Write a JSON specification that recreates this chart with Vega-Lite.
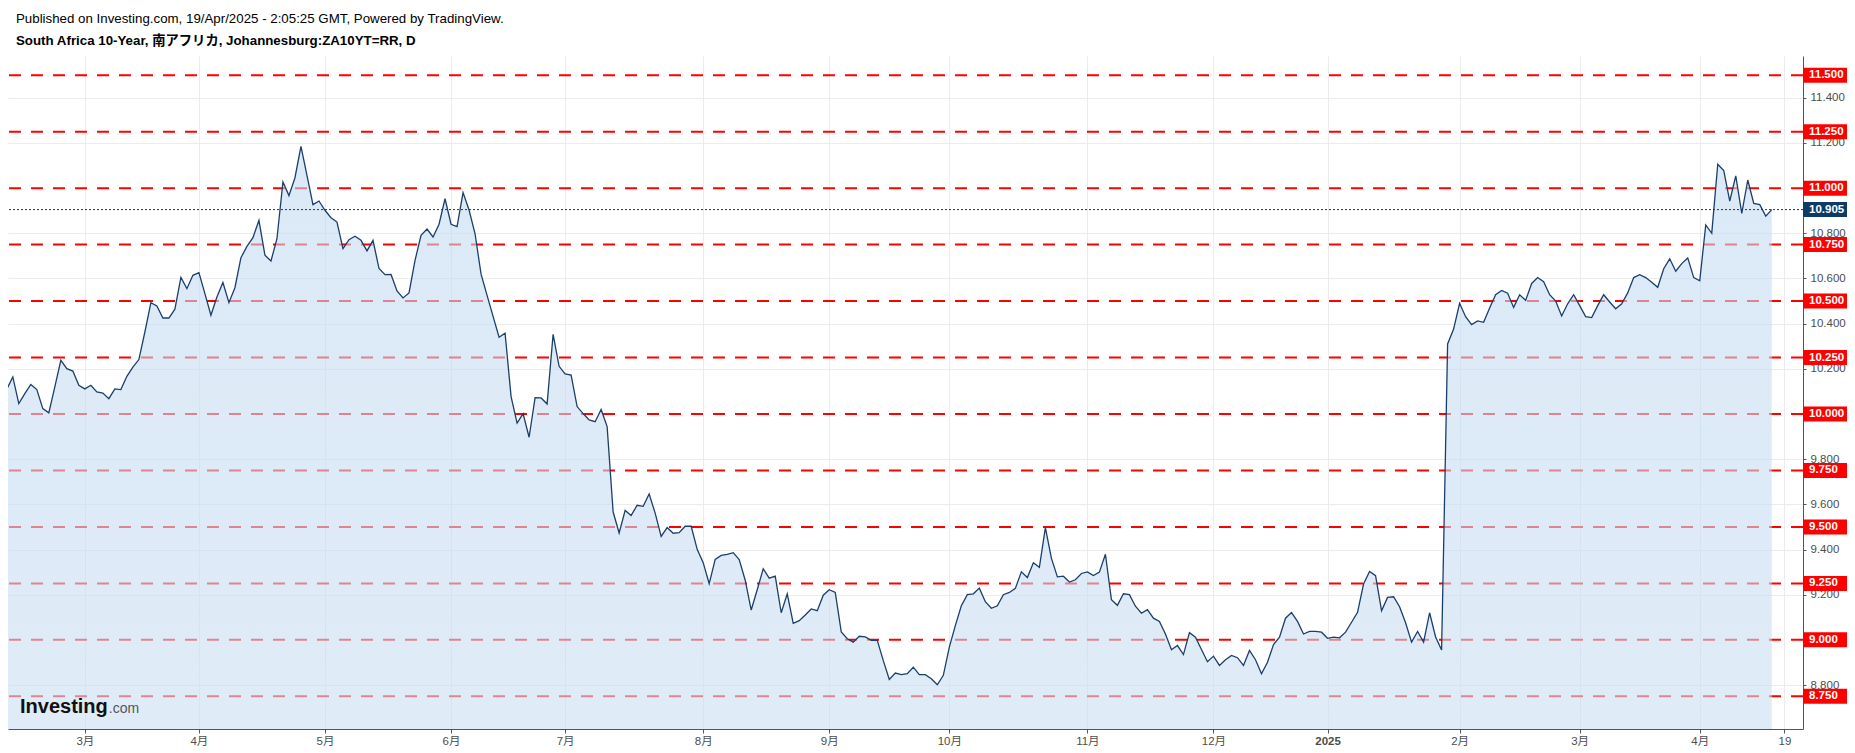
{
  "$schema": "https://vega.github.io/schema/vega-lite/v6.json",
  "width": 1795,
  "height": 673,
  "autosize": {"type": "none"},
  "padding": {"left": 8, "top": 56, "right": 52, "bottom": 24},
  "background": "#ffffff",
  "config": {"view": {"stroke": null}},
  "title": {
    "text": "Published on Investing.com, 19/Apr/2025 - 2:05:25 GMT, Powered by TradingView.",
    "subtitle": "South Africa 10-Year, 南アフリカ, Johannesburg:ZA10YT=RR, D",
    "anchor": "start",
    "frame": "group",
    "dx": 8,
    "offset": 9,
    "font": "Liberation Sans",
    "fontSize": 13.3,
    "fontWeight": "normal",
    "color": "#000000",
    "subtitleFont": "Liberation Sans, Noto Sans CJK JP",
    "subtitleFontSize": 13.3,
    "subtitleFontWeight": "bold",
    "subtitleColor": "#000000",
    "subtitlePadding": 8
  },
  "datasets": {
    "yields": [
      {"d":"2024-02-13","v":10.11},{"d":"2024-02-14","v":10.164},{"d":"2024-02-15","v":10.046},{"d":"2024-02-16","v":10.09},{"d":"2024-02-19","v":10.131},{"d":"2024-02-20","v":10.108},{"d":"2024-02-21","v":10.024},{"d":"2024-02-22","v":10.005},{"d":"2024-02-23","v":10.12},{"d":"2024-02-26","v":10.238},{"d":"2024-02-27","v":10.201},{"d":"2024-02-28","v":10.19},{"d":"2024-02-29","v":10.127},
      {"d":"2024-03-01","v":10.111},{"d":"2024-03-04","v":10.127},{"d":"2024-03-05","v":10.098},{"d":"2024-03-06","v":10.093},{"d":"2024-03-07","v":10.068},{"d":"2024-03-08","v":10.111},{"d":"2024-03-11","v":10.108},{"d":"2024-03-12","v":10.167},{"d":"2024-03-13","v":10.208},{"d":"2024-03-14","v":10.241},{"d":"2024-03-15","v":10.363},{"d":"2024-03-18","v":10.493},{"d":"2024-03-19","v":10.478},{"d":"2024-03-20","v":10.425},{"d":"2024-03-22","v":10.425},{"d":"2024-03-25","v":10.464},{"d":"2024-03-26","v":10.605},{"d":"2024-03-27","v":10.555},{"d":"2024-03-28","v":10.614},
      {"d":"2024-04-02","v":10.626},{"d":"2024-04-03","v":10.533},{"d":"2024-04-04","v":10.437},{"d":"2024-04-05","v":10.518},{"d":"2024-04-08","v":10.582},{"d":"2024-04-09","v":10.493},{"d":"2024-04-10","v":10.559},{"d":"2024-04-11","v":10.692},{"d":"2024-04-12","v":10.742},{"d":"2024-04-15","v":10.781},{"d":"2024-04-16","v":10.857},{"d":"2024-04-17","v":10.703},{"d":"2024-04-18","v":10.677},{"d":"2024-04-19","v":10.776},{"d":"2024-04-22","v":11.027},{"d":"2024-04-23","v":10.967},{"d":"2024-04-24","v":11.046},{"d":"2024-04-25","v":11.185},{"d":"2024-04-26","v":11.057},{"d":"2024-04-29","v":10.927},{"d":"2024-04-30","v":10.943},
      {"d":"2024-05-02","v":10.902},{"d":"2024-05-03","v":10.869},{"d":"2024-05-06","v":10.85},{"d":"2024-05-07","v":10.732},{"d":"2024-05-08","v":10.772},{"d":"2024-05-09","v":10.787},{"d":"2024-05-10","v":10.769},{"d":"2024-05-13","v":10.722},{"d":"2024-05-14","v":10.769},{"d":"2024-05-15","v":10.644},{"d":"2024-05-16","v":10.617},{"d":"2024-05-17","v":10.618},{"d":"2024-05-20","v":10.545},{"d":"2024-05-21","v":10.514},{"d":"2024-05-22","v":10.536},{"d":"2024-05-23","v":10.68},{"d":"2024-05-24","v":10.791},{"d":"2024-05-27","v":10.819},{"d":"2024-05-28","v":10.784},{"d":"2024-05-30","v":10.84},{"d":"2024-05-31","v":10.953},
      {"d":"2024-06-03","v":10.84},{"d":"2024-06-04","v":10.83},{"d":"2024-06-05","v":10.98},{"d":"2024-06-06","v":10.903},{"d":"2024-06-07","v":10.798},{"d":"2024-06-10","v":10.619},{"d":"2024-06-11","v":10.525},{"d":"2024-06-12","v":10.432},{"d":"2024-06-13","v":10.34},{"d":"2024-06-14","v":10.358},{"d":"2024-06-18","v":10.077},{"d":"2024-06-19","v":9.96},{"d":"2024-06-20","v":10.002},{"d":"2024-06-21","v":9.897},{"d":"2024-06-24","v":10.072},{"d":"2024-06-25","v":10.071},{"d":"2024-06-26","v":10.044},{"d":"2024-06-27","v":10.353},{"d":"2024-06-28","v":10.211},
      {"d":"2024-07-01","v":10.178},{"d":"2024-07-02","v":10.172},{"d":"2024-07-03","v":10.033},{"d":"2024-07-04","v":10.002},{"d":"2024-07-05","v":9.974},{"d":"2024-07-08","v":9.966},{"d":"2024-07-09","v":10.02},{"d":"2024-07-10","v":9.944},{"d":"2024-07-11","v":9.566},{"d":"2024-07-12","v":9.473},{"d":"2024-07-15","v":9.573},{"d":"2024-07-16","v":9.551},{"d":"2024-07-17","v":9.596},{"d":"2024-07-18","v":9.591},{"d":"2024-07-19","v":9.646},{"d":"2024-07-22","v":9.561},{"d":"2024-07-23","v":9.458},{"d":"2024-07-24","v":9.497},{"d":"2024-07-25","v":9.472},{"d":"2024-07-26","v":9.475},{"d":"2024-07-29","v":9.503},{"d":"2024-07-30","v":9.503},{"d":"2024-07-31","v":9.401},
      {"d":"2024-08-01","v":9.342},{"d":"2024-08-02","v":9.249},{"d":"2024-08-05","v":9.356},{"d":"2024-08-06","v":9.374},{"d":"2024-08-07","v":9.379},{"d":"2024-08-08","v":9.386},{"d":"2024-08-12","v":9.356},{"d":"2024-08-13","v":9.264},{"d":"2024-08-14","v":9.132},{"d":"2024-08-15","v":9.222},{"d":"2024-08-16","v":9.315},{"d":"2024-08-19","v":9.273},{"d":"2024-08-20","v":9.282},{"d":"2024-08-21","v":9.12},{"d":"2024-08-22","v":9.204},{"d":"2024-08-23","v":9.073},{"d":"2024-08-26","v":9.085},{"d":"2024-08-27","v":9.11},{"d":"2024-08-28","v":9.137},{"d":"2024-08-29","v":9.129},{"d":"2024-08-30","v":9.198},
      {"d":"2024-09-02","v":9.222},{"d":"2024-09-03","v":9.21},{"d":"2024-09-04","v":9.035},{"d":"2024-09-05","v":9.005},{"d":"2024-09-06","v":8.99},{"d":"2024-09-09","v":9.016},{"d":"2024-09-10","v":9.013},{"d":"2024-09-11","v":8.998},{"d":"2024-09-12","v":8.998},{"d":"2024-09-13","v":8.908},{"d":"2024-09-16","v":8.825},{"d":"2024-09-17","v":8.853},{"d":"2024-09-18","v":8.846},{"d":"2024-09-19","v":8.85},{"d":"2024-09-20","v":8.879},{"d":"2024-09-23","v":8.846},{"d":"2024-09-25","v":8.846},{"d":"2024-09-26","v":8.828},{"d":"2024-09-27","v":8.801},{"d":"2024-09-30","v":8.843},
      {"d":"2024-10-01","v":8.968},{"d":"2024-10-02","v":9.063},{"d":"2024-10-03","v":9.151},{"d":"2024-10-04","v":9.2},{"d":"2024-10-07","v":9.204},{"d":"2024-10-08","v":9.229},{"d":"2024-10-09","v":9.169},{"d":"2024-10-10","v":9.14},{"d":"2024-10-11","v":9.151},{"d":"2024-10-14","v":9.2},{"d":"2024-10-15","v":9.21},{"d":"2024-10-16","v":9.228},{"d":"2024-10-17","v":9.301},{"d":"2024-10-18","v":9.276},{"d":"2024-10-21","v":9.341},{"d":"2024-10-22","v":9.321},{"d":"2024-10-23","v":9.497},{"d":"2024-10-24","v":9.362},{"d":"2024-10-25","v":9.279},{"d":"2024-10-28","v":9.282},{"d":"2024-10-29","v":9.256},{"d":"2024-10-30","v":9.266},{"d":"2024-10-31","v":9.294},
      {"d":"2024-11-01","v":9.301},{"d":"2024-11-04","v":9.285},{"d":"2024-11-05","v":9.3},{"d":"2024-11-06","v":9.379},{"d":"2024-11-07","v":9.178},{"d":"2024-11-08","v":9.153},{"d":"2024-11-11","v":9.204},{"d":"2024-11-12","v":9.2},{"d":"2024-11-13","v":9.149},{"d":"2024-11-14","v":9.118},{"d":"2024-11-15","v":9.134},{"d":"2024-11-18","v":9.096},{"d":"2024-11-19","v":9.082},{"d":"2024-11-20","v":9.026},{"d":"2024-11-21","v":8.956},{"d":"2024-11-22","v":8.975},{"d":"2024-11-25","v":8.935},{"d":"2024-11-26","v":9.032},{"d":"2024-11-27","v":9.012},{"d":"2024-11-28","v":8.957},{"d":"2024-11-29","v":8.903},
      {"d":"2024-12-02","v":8.928},{"d":"2024-12-03","v":8.887},{"d":"2024-12-04","v":8.912},{"d":"2024-12-05","v":8.931},{"d":"2024-12-06","v":8.921},{"d":"2024-12-09","v":8.887},{"d":"2024-12-10","v":8.953},{"d":"2024-12-11","v":8.912},{"d":"2024-12-12","v":8.85},{"d":"2024-12-13","v":8.901},{"d":"2024-12-17","v":8.979},{"d":"2024-12-18","v":9.012},{"d":"2024-12-19","v":9.096},{"d":"2024-12-20","v":9.121},{"d":"2024-12-23","v":9.082},{"d":"2024-12-24","v":9.026},{"d":"2024-12-27","v":9.038},{"d":"2024-12-30","v":9.038},{"d":"2024-12-31","v":9.034},
      {"d":"2025-01-02","v":9.007},{"d":"2025-01-03","v":9.012},{"d":"2025-01-06","v":9.009},{"d":"2025-01-07","v":9.034},{"d":"2025-01-08","v":9.078},{"d":"2025-01-09","v":9.122},{"d":"2025-01-10","v":9.247},{"d":"2025-01-13","v":9.303},{"d":"2025-01-14","v":9.284},{"d":"2025-01-15","v":9.129},{"d":"2025-01-16","v":9.188},{"d":"2025-01-17","v":9.191},{"d":"2025-01-20","v":9.147},{"d":"2025-01-21","v":9.076},{"d":"2025-01-22","v":8.99},{"d":"2025-01-23","v":9.037},{"d":"2025-01-24","v":8.99},{"d":"2025-01-27","v":9.12},{"d":"2025-01-28","v":9.013},{"d":"2025-01-29","v":8.955},{"d":"2025-01-30","v":10.31},{"d":"2025-01-31","v":10.376},
      {"d":"2025-02-03","v":10.49},{"d":"2025-02-04","v":10.431},{"d":"2025-02-05","v":10.396},{"d":"2025-02-06","v":10.412},{"d":"2025-02-07","v":10.406},{"d":"2025-02-10","v":10.469},{"d":"2025-02-11","v":10.528},{"d":"2025-02-12","v":10.547},{"d":"2025-02-13","v":10.535},{"d":"2025-02-14","v":10.472},{"d":"2025-02-17","v":10.528},{"d":"2025-02-18","v":10.503},{"d":"2025-02-19","v":10.578},{"d":"2025-02-20","v":10.604},{"d":"2025-02-21","v":10.586},{"d":"2025-02-24","v":10.528},{"d":"2025-02-25","v":10.5},{"d":"2025-02-26","v":10.434},{"d":"2025-02-27","v":10.488},{"d":"2025-02-28","v":10.528},
      {"d":"2025-03-03","v":10.48},{"d":"2025-03-04","v":10.431},{"d":"2025-03-05","v":10.427},{"d":"2025-03-06","v":10.48},{"d":"2025-03-07","v":10.528},{"d":"2025-03-10","v":10.496},{"d":"2025-03-11","v":10.466},{"d":"2025-03-12","v":10.488},{"d":"2025-03-13","v":10.536},{"d":"2025-03-14","v":10.604},{"d":"2025-03-17","v":10.617},{"d":"2025-03-18","v":10.604},{"d":"2025-03-19","v":10.583},{"d":"2025-03-20","v":10.561},{"d":"2025-03-24","v":10.643},{"d":"2025-03-25","v":10.687},{"d":"2025-03-26","v":10.632},{"d":"2025-03-27","v":10.666},{"d":"2025-03-28","v":10.691},{"d":"2025-03-31","v":10.604},
      {"d":"2025-04-01","v":10.59},{"d":"2025-04-02","v":10.837},{"d":"2025-04-03","v":10.8},{"d":"2025-04-04","v":11.106},{"d":"2025-04-07","v":11.078},{"d":"2025-04-08","v":10.943},{"d":"2025-04-09","v":11.054},{"d":"2025-04-10","v":10.888},{"d":"2025-04-11","v":11.036},{"d":"2025-04-14","v":10.932},{"d":"2025-04-15","v":10.927},{"d":"2025-04-16","v":10.876},{"d":"2025-04-17","v":10.905}
    ],
    "levels": [
      {"lvl": 11.5}, {"lvl": 11.25}, {"lvl": 11.0}, {"lvl": 10.75}, {"lvl": 10.5}, {"lvl": 10.25},
      {"lvl": 10.0}, {"lvl": 9.75}, {"lvl": 9.5}, {"lvl": 9.25}, {"lvl": 9.0}, {"lvl": 8.75}
    ]
  },
  "data": {"name": "yields"},
  "transform": [
    {"window": [{"op": "row_number", "as": "idx"}], "sort": [{"field": "d"}]}
  ],
  "layer": [
    {
      "mark": {
        "type": "area",
        "clip": true,
        "opacity": 0,
        "color": "#ffffff"
      },
      "encoding": {
        "x": {
          "field": "idx",
          "type": "quantitative",
          "title": null,
          "scale": {"domain": [1.2, 300.2], "zero": false, "nice": false},
          "axis": {
            "title": null,
            "values": [14, 33, 54, 75, 94, 117, 138, 158, 181, 202, 221, 243, 263, 283, 297.1],
            "labelExpr": "['3月','4月','5月','6月','7月','8月','9月','10月','11月','12月','2025','2月','3月','4月','19'][indexof([14, 33, 54, 75, 94, 117, 138, 158, 181, 202, 221, 243, 263, 283, 297.1], datum.value)]",
            "labelFont": "Liberation Sans, Noto Sans CJK JP",
            "labelFontSize": 11.5,
            "labelColor": "#4d4d4d",
            "labelFontWeight": {"condition": {"test": "datum.value == 221", "value": "bold"}, "value": "normal"},
            "labelAngle": 0,
            "labelPadding": 2,
            "labelOverlap": false,
            "labelFlush": false,
            "tickSize": 4,
            "tickColor": "#555555",
            "domainColor": "#555555",
            "domainWidth": 1,
            "grid": true,
            "gridColor": "#ececec",
            "gridWidth": 1
          }
        },
        "y": {
          "field": "v",
          "type": "quantitative",
          "title": null,
          "scale": {"domain": [8.6054, 11.585], "zero": false, "nice": false},
          "axis": {
            "orient": "right",
            "title": null,
            "values": [8.8, 9.2, 9.4, 9.6, 9.8, 10.2, 10.4, 10.6, 10.8, 11.2, 11.4],
            "format": ".3f",
            "labelFont": "Liberation Sans",
            "labelFontSize": 11.5,
            "labelColor": "#4d4d4d",
            "labelPadding": 4,
            "labelFlush": false,
            "tickSize": 3,
            "tickColor": "#555555",
            "domainColor": "#555555",
            "grid": true,
            "gridColor": "#ececec",
            "gridWidth": 1
          }
        }
      }
    },
    {
      "data": {"name": "levels"},
      "mark": {"type": "rule", "color": "#ff0000", "strokeWidth": 2, "strokeDash": [12, 10]},
      "encoding": {
        "y": {"field": "lvl", "type": "quantitative", "title": null, "axis": {"orient": "right", "title": null}}
      }
    },
    {
      "mark": {
        "type": "area",
        "clip": true,
        "color": {
          "gradient": "linear",
          "x1": 0, "y1": 0, "x2": 0, "y2": 1,
          "stops": [
            {"offset": 0, "color": "rgba(196,218,240,0.6)"},
            {"offset": 1, "color": "rgba(222,238,253,0.6)"}
          ]
        }
      },
      "encoding": {
        "x": {"field": "idx", "type": "quantitative", "title": null, "axis": {"title": null}},
        "y": {"field": "v", "type": "quantitative", "title": null, "axis": {"orient": "right", "title": null}}
      }
    },
    {
      "mark": {"type": "line", "clip": true, "color": "#1b3f6b", "strokeWidth": 1.3},
      "encoding": {
        "x": {"field": "idx", "type": "quantitative", "title": null, "axis": {"title": null}},
        "y": {"field": "v", "type": "quantitative", "title": null, "axis": {"orient": "right", "title": null}}
      }
    },
    {
      "transform": [{"filter": "datum.d == '2025-04-17'"}],
      "mark": {"type": "rule", "color": "#0d3b66", "strokeWidth": 1, "strokeDash": [2, 2]},
      "encoding": {
        "y": {"field": "v", "type": "quantitative", "title": null, "axis": {"orient": "right", "title": null}}
      }
    },
    {
      "data": {"name": "levels"},
      "mark": {"type": "rect", "color": "#ff0000", "clip": false, "x2Offset": 44, "yOffset": -7.5, "y2Offset": 7.5},
      "encoding": {
        "x": {"value": "width"},
        "x2": {"value": "width"},
        "y": {"field": "lvl", "type": "quantitative", "title": null, "axis": {"orient": "right", "title": null}},
        "y2": {"field": "lvl"}
      }
    },
    {
      "data": {"name": "levels"},
      "mark": {"type": "text", "color": "#ffffff", "font": "Liberation Sans", "fontSize": 11.5, "fontWeight": "bold", "align": "left", "baseline": "middle", "dx": 6, "clip": false},
      "encoding": {
        "x": {"value": "width"},
        "y": {"field": "lvl", "type": "quantitative", "title": null, "axis": {"orient": "right", "title": null}},
        "text": {"field": "lvl", "format": ".3f"}
      }
    },
    {
      "transform": [{"filter": "datum.d == '2025-04-17'"}],
      "mark": {"type": "rect", "color": "#0d3b66", "clip": false, "x2Offset": 44, "yOffset": -7.5, "y2Offset": 7.5},
      "encoding": {
        "x": {"value": "width"},
        "x2": {"value": "width"},
        "y": {"field": "v", "type": "quantitative", "title": null, "axis": {"orient": "right", "title": null}},
        "y2": {"field": "v"}
      }
    },
    {
      "transform": [{"filter": "datum.d == '2025-04-17'"}],
      "mark": {"type": "text", "color": "#ffffff", "font": "Liberation Sans", "fontSize": 11.5, "fontWeight": "bold", "align": "left", "baseline": "middle", "dx": 6, "clip": false},
      "encoding": {
        "x": {"value": "width"},
        "y": {"field": "v", "type": "quantitative", "title": null, "axis": {"orient": "right", "title": null}},
        "text": {"field": "v", "format": ".3f"}
      }
    },
    {
      "data": {"values": [{"brand": "Investing"}]},
      "mark": {"type": "text", "color": "#111111", "font": "Liberation Sans", "fontSize": 20, "fontWeight": "bold", "align": "left", "baseline": "alphabetic"},
      "encoding": {
        "x": {"datum": 3.2, "type": "quantitative", "title": null, "axis": {"title": null}},
        "y": {"datum": 8.6775, "type": "quantitative", "title": null, "axis": {"orient": "right", "title": null}},
        "text": {"field": "brand"}
      }
    },
    {
      "data": {"values": [{"brand": ".com"}]},
      "mark": {"type": "text", "color": "#555555", "font": "Liberation Sans", "fontSize": 14, "align": "left", "baseline": "alphabetic"},
      "encoding": {
        "x": {"datum": 18.0, "type": "quantitative", "title": null, "axis": {"title": null}},
        "y": {"datum": 8.6775, "type": "quantitative", "title": null, "axis": {"orient": "right", "title": null}},
        "text": {"field": "brand"}
      }
    }
  ]
}
